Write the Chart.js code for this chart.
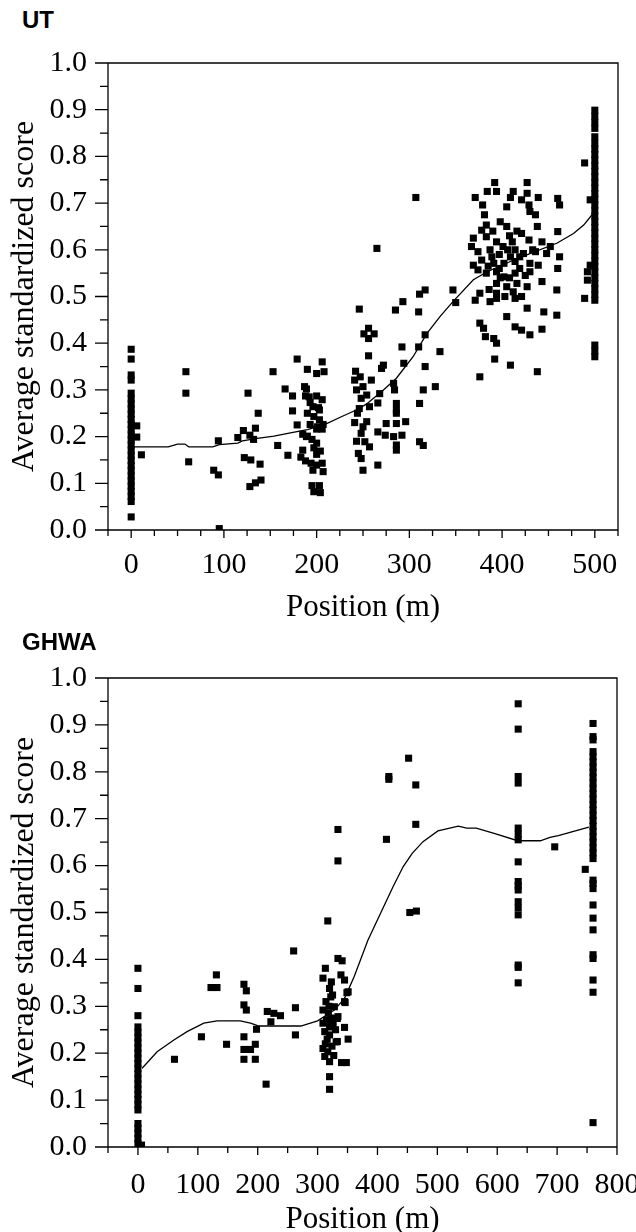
<!DOCTYPE html>
<html>
<head>
<meta charset="utf-8">
<script src="https://cdn.jsdelivr.net/npm/chart.js@4.4.1/dist/chart.umd.min.js"></script>
<style>
body{margin:0;background:#fff;}
#page{position:relative;width:636px;height:1232px;overflow:hidden;}
canvas{position:absolute;left:0;}
.panel{position:absolute;left:22px;font:bold 24px Arial,'Liberation Sans',sans-serif;color:#000;line-height:26px;}
</style>
</head>
<body>
<div id="page">
  <div class="panel" style="top:7px">UT</div>
  <canvas id="utChart" width="636" height="630" style="top:0px"></canvas>
  <div class="panel" style="top:629px">GHWA</div>
  <canvas id="ghwaChart" width="636" height="620" style="top:616px"></canvas>
</div>

<script>
/* =========================
   DATA - UT
========================= */

const utXLabels = [0, 100, 200, 300, 400, 500];
const yLabels = [0, 0.1, 0.2, 0.3, 0.4, 0.5, 0.6, 0.7, 0.8, 0.9, 1.0];

// scores stacked at position 0
const utZeroY = [0.028, 0.061, 0.072, 0.083, 0.094, 0.105, 0.116, 0.127, 0.138, 0.149,
    0.160, 0.171, 0.182, 0.193, 0.204, 0.215, 0.226, 0.237, 0.248, 0.259,
    0.270, 0.281, 0.293, 0.321, 0.332, 0.366, 0.387];

// scores stacked at position 500
const utEndY = [0.371, 0.383, 0.396, 0.492, 0.504, 0.516, 0.528, 0.540, 0.552, 0.564,
    0.576, 0.588, 0.600, 0.612, 0.624, 0.636, 0.648, 0.660, 0.672, 0.684,
    0.696, 0.708, 0.720, 0.732, 0.744, 0.756, 0.768, 0.780, 0.792, 0.804,
    0.816, 0.828, 0.842, 0.860, 0.873, 0.886, 0.899];

const utPoints = [
    [6,0.223],[6,0.199],[11,0.161],
    [59,0.339],[59,0.293],[62,0.146],[89,0.128],[94,0.118],[94,0.191],[95,0.003],
    [115,0.198],[121,0.213],[126,0.293],[128,0.203],[132,0.194],[134,0.218],[137,0.25],
    [122,0.155],[129,0.15],[139,0.141],[128,0.093],[134,0.101],[140,0.107],
    [153,0.339],[158,0.181],[166,0.302],[169,0.16],[174,0.287],[174,0.255],[179,0.225],[179,0.366],
    [190,0.344],[200,0.335],[206,0.36],[208,0.339],[189,0.302],[188,0.287],[193,0.273],[200,0.287],
    [206,0.279],[196,0.264],[202,0.262],[190,0.25],[197,0.243],[203,0.236],[207,0.226],[193,0.226],
    [200,0.216],[206,0.216],[185,0.205],[190,0.201],[195,0.194],[200,0.186],[197,0.176],[204,0.169],
    [200,0.162],[183,0.156],[188,0.148],[194,0.143],[200,0.139],[206,0.143],[196,0.128],[207,0.125],
    [195,0.095],[203,0.095],[197,0.082],[204,0.08],[185,0.171],[189,0.2],[201,0.221],[203,0.257],
    [192,0.285],[187,0.307],
    [246,0.473],[251,0.42],[262,0.42],[256,0.432],[256,0.41],[256,0.373],[241,0.321],[247,0.328],
    [243,0.3],[250,0.307],[254,0.289],[248,0.282],[259,0.321],[268,0.292],[257,0.264],[254,0.232],
    [250,0.221],[248,0.207],[252,0.189],[245,0.164],[248,0.153],[250,0.128],[266,0.139],[257,0.178],
    [242,0.34],[244,0.25],[243,0.19],[246,0.26],[241,0.23],
    [275,0.228],[286,0.228],[286,0.25],[286,0.271],[284,0.3],[283,0.314],[272,0.353],[270,0.346],
    [266,0.21],[274,0.203],[283,0.2],[292,0.203],[286,0.182],[286,0.171],[296,0.232],[311,0.271],
    [315,0.3],[328,0.307],[311,0.189],[315,0.181],[317,0.35],[333,0.382],[310,0.392],[317,0.418],
    [292,0.392],[294,0.357],[285,0.471],[293,0.489],[310,0.467],[311,0.505],[317,0.514],[347,0.514],
    [350,0.487],[307,0.712],[265,0.603],[266,0.272],[286,0.257],
    [392,0.744],[427,0.744],[384,0.725],[394,0.725],[412,0.725],[427,0.721],[371,0.712],[409,0.712],
    [421,0.707],[439,0.712],[460,0.71],[462,0.696],[379,0.696],[405,0.692],[429,0.696],[430,0.682],
    [436,0.675],[381,0.675],[383,0.653],[398,0.66],[405,0.65],[438,0.65],[460,0.639],[378,0.642],
    [369,0.625],[383,0.628],[394,0.617],[411,0.617],[421,0.635],[429,0.621],[443,0.617],[452,0.607],
    [367,0.607],[374,0.596],[387,0.6],[401,0.607],[414,0.6],[423,0.592],[436,0.596],[448,0.592],
    [462,0.585],[378,0.578],[391,0.571],[402,0.571],[414,0.575],[430,0.571],[439,0.567],[369,0.567],
    [374,0.557],[383,0.55],[394,0.553],[402,0.542],[414,0.55],[430,0.553],[394,0.528],[405,0.521],
    [416,0.528],[427,0.521],[443,0.532],[376,0.507],[394,0.507],[412,0.51],[421,0.5],[459,0.514],
    [371,0.492],[387,0.489],[394,0.496],[403,0.5],[414,0.496],[427,0.475],[405,0.457],[445,0.467],
    [459,0.46],[376,0.443],[380,0.432],[382,0.414],[391,0.41],[414,0.435],[421,0.428],[430,0.418],
    [443,0.43],[394,0.4],[392,0.366],[409,0.353],[376,0.328],[438,0.339],[460,0.56],
    [389,0.585],[397,0.59],[406,0.6],[398,0.54],[408,0.54],[386,0.515],[409,0.585],[419,0.56],
    [425,0.545],[397,0.56],[385,0.565],[419,0.585],[433,0.6],[408,0.63],[416,0.64],[390,0.64],
    [489,0.786],[495,0.707],[489,0.496],[495,0.567],[492,0.553],[492,0.535]
];

// smoothed trend line
const utCurve = [
    [3,0.178],[40,0.178],[50,0.184],[58,0.184],[62,0.178],[88,0.178],[95,0.183],[115,0.186],
    [120,0.191],[136,0.196],[154,0.201],[169,0.207],[190,0.215],[208,0.225],[226,0.242],[244,0.258],
    [254,0.27],[272,0.3],[286,0.325],[304,0.371],[319,0.421],[333,0.457],[347,0.489],[369,0.536],
    [384,0.553],[409,0.575],[430,0.592],[459,0.614],[477,0.635],[488,0.653],[497,0.675]
];


/* =========================
   DATA - GHWA
========================= */

const ghwaXLabels = [0, 100, 200, 300, 400, 500, 600, 700, 800];

const ghwaZeroY = [0.007, 0.018, 0.029, 0.040, 0.050, 0.079, 0.090, 0.101, 0.112, 0.123,
    0.134, 0.145, 0.156, 0.167, 0.178, 0.189, 0.200, 0.211, 0.222, 0.233,
    0.244, 0.256, 0.280, 0.338, 0.381];

const ghwaMidY = [0.350, 0.383, 0.388, 0.495, 0.510, 0.523, 0.548, 0.557, 0.566, 0.608,
    0.655, 0.667, 0.680, 0.776, 0.790, 0.891, 0.945];

const ghwaEndY = [0.052, 0.330, 0.356, 0.402, 0.410, 0.463, 0.488, 0.516, 0.551, 0.562,
    0.569, 0.615, 0.627, 0.638, 0.650, 0.661, 0.673, 0.684, 0.696, 0.707,
    0.719, 0.730, 0.742, 0.753, 0.765, 0.776, 0.788, 0.799, 0.810, 0.821,
    0.832, 0.843, 0.868, 0.875, 0.903];

const ghwaPoints = [
    [6,0.004],
    [61,0.187],[106,0.235],[131,0.367],[122,0.34],[132,0.34],[148,0.219],[177,0.347],[181,0.333],
    [177,0.303],[181,0.292],[177,0.235],[177,0.208],[188,0.208],[196,0.219],[198,0.251],[177,0.187],
    [196,0.187],[214,0.134],[216,0.289],[227,0.285],[238,0.28],[222,0.267],[260,0.418],[263,0.297],
    [263,0.239],
    [317,0.482],[334,0.402],[341,0.397],[313,0.381],[339,0.367],[309,0.36],[323,0.352],[345,0.356],
    [320,0.338],[351,0.331],[325,0.324],[314,0.31],[345,0.31],[309,0.292],[328,0.299],[334,0.278],
    [309,0.264],[320,0.256],[345,0.255],[312,0.246],[320,0.239],[331,0.224],[351,0.23],[309,0.21],
    [317,0.203],[312,0.193],[320,0.182],[340,0.18],[348,0.18],[320,0.15],[320,0.123],[333,0.274],
    [333,0.225],[346,0.308],[349,0.329],[315,0.27],[322,0.275],[318,0.285],[326,0.262],[316,0.23],
    [324,0.215],[313,0.22],[327,0.195],[330,0.25],[319,0.3],[322,0.32],
    [334,0.677],[334,0.61],[415,0.656],[419,0.784],[419,0.79],[452,0.829],[464,0.772],[464,0.688],
    [454,0.5],[465,0.503],
    [696,0.64],[747,0.592]
];

const ghwaCurve = [
    [7,0.168],[32,0.203],[60,0.228],[82,0.246],[110,0.264],[132,0.269],[171,0.269],[188,0.264],
    [202,0.258],[272,0.258],[300,0.269],[328,0.292],[345,0.317],[361,0.363],[384,0.441],[404,0.495],
    [426,0.555],[443,0.598],[458,0.626],[476,0.651],[501,0.674],[535,0.684],[549,0.68],[565,0.68],
    [599,0.667],[634,0.653],[672,0.653],[688,0.66],[702,0.664],[753,0.682]
];


/* =========================
   FRAME + TICK PLUGIN
========================= */

const SERIF = "'Times New Roman', 'Liberation Serif', serif";

function isTenth(v){
    return Math.abs(v * 10 - Math.round(v * 10)) < 1e-6;
}

const frameTicks = {
    id: 'frameTicks',

    afterDraw(chart, args, opts) {
        const { ctx, chartArea: a, scales: { x, y } } = chart;

        ctx.save();
        ctx.strokeStyle = '#000';
        ctx.lineWidth = 1.3;
        ctx.beginPath();

        // box round the plot
        ctx.rect(a.left, a.top, a.right - a.left, a.bottom - a.top);

        // y ticks to the left
        y.ticks.forEach(t => {
            const py = y.getPixelForValue(t.value);
            const len = isTenth(t.value) ? 13 : 8;
            ctx.moveTo(a.left - len, py);
            ctx.lineTo(a.left, py);
        });

        // x ticks below
        x.ticks.forEach(t => {
            const px = x.getPixelForValue(t.value);
            const len = (t.value % opts.xMajor === 0) ? 8 : 6;
            ctx.moveTo(px, a.bottom);
            ctx.lineTo(px, a.bottom + len);
        });

        ctx.stroke();
        ctx.restore();
    }
};


/* =========================
   CREATE CHART
========================= */

function toXY(pairs){
    return pairs.map(p => ({ x: p[0], y: p[1] }));
}

function column(x, ys){
    return ys.map(v => ({ x: x, y: v }));
}

function makeChart(id, cfg){

    return new Chart(document.getElementById(id), {

        type: 'scatter',

        data: {
            datasets: [
                {
                    data: toXY(cfg.curve),
                    showLine: true,
                    pointRadius: 0,
                    borderColor: '#000',
                    borderWidth: 1.3,
                    tension: 0
                },
                {
                    data: cfg.points,
                    pointStyle: 'rect',
                    pointRadius: 5,
                    backgroundColor: '#000',
                    borderWidth: 0
                }
            ]
        },

        options: {
            responsive: false,
            animation: false,

            layout: {
                padding: { top: cfg.top, right: cfg.right, left: 0, bottom: 0 }
            },

            plugins: {
                legend: { display: false },
                tooltip: { enabled: false },
                frameTicks: { xMajor: 100 }
            },

            scales: {
                x: {
                    type: 'linear',
                    min: cfg.xMin,
                    max: cfg.xMax,
                    // fixed height, and let the last label run past the edge
                    afterFit: s => {
                        s.height = cfg.xHeight;
                        s.paddingLeft = 0;
                        s.paddingRight = 0;
                    },
                    grid: { display: false, drawTicks: true, tickLength: 8 },
                    border: { display: false },
                    ticks: {
                        stepSize: cfg.xStep,
                        autoSkip: false,
                        maxRotation: 0,
                        padding: cfg.labelPad,
                        color: '#000',
                        font: { family: SERIF, size: 30 },
                        callback: v => cfg.xLabels.includes(v) ? String(v) : ''
                    },
                    title: {
                        display: true,
                        text: 'Position (m)',
                        color: '#000',
                        font: { family: SERIF, size: 31, lineHeight: 1 },
                        padding: { top: 0, bottom: cfg.titlePad }
                    }
                },

                y: {
                    min: 0,
                    max: 1,
                    afterFit: s => { s.width = 108; },
                    grid: { display: false, drawTicks: true, tickLength: 13 },
                    border: { display: false },
                    ticks: {
                        stepSize: 0.05,
                        autoSkip: false,
                        padding: 8,
                        color: '#000',
                        font: { family: SERIF, size: 30 },
                        callback: v => (isTenth(v) && yLabels.some(l => Math.abs(l - v) < 1e-6)) ? v.toFixed(1) : ''
                    },
                    title: {
                        display: true,
                        text: 'Average standardized score',
                        color: '#000',
                        font: { family: SERIF, size: 32, lineHeight: 1 },
                        padding: { top: 9, bottom: 0 }
                    }
                }
            }
        },

        plugins: [frameTicks]
    });
}


/* =========================
   INIT
========================= */

makeChart('utChart', {
    points: column(0, utZeroY).concat(column(500, utEndY), toXY(utPoints)),
    curve: utCurve,
    xMin: -25, xMax: 525, xStep: 25,
    xLabels: utXLabels,
    top: 63, right: 18,
    xHeight: 100, labelPad: 9, titlePad: 7
});

makeChart('ghwaChart', {
    points: column(0, ghwaZeroY).concat(column(635, ghwaMidY), column(760, ghwaEndY), toXY(ghwaPoints)),
    curve: ghwaCurve,
    xMin: -50, xMax: 800, xStep: 50,
    xLabels: ghwaXLabels,
    top: 62, right: 19,
    xHeight: 89, labelPad: 12, titlePad: 1
});
</script>
</body>
</html>
